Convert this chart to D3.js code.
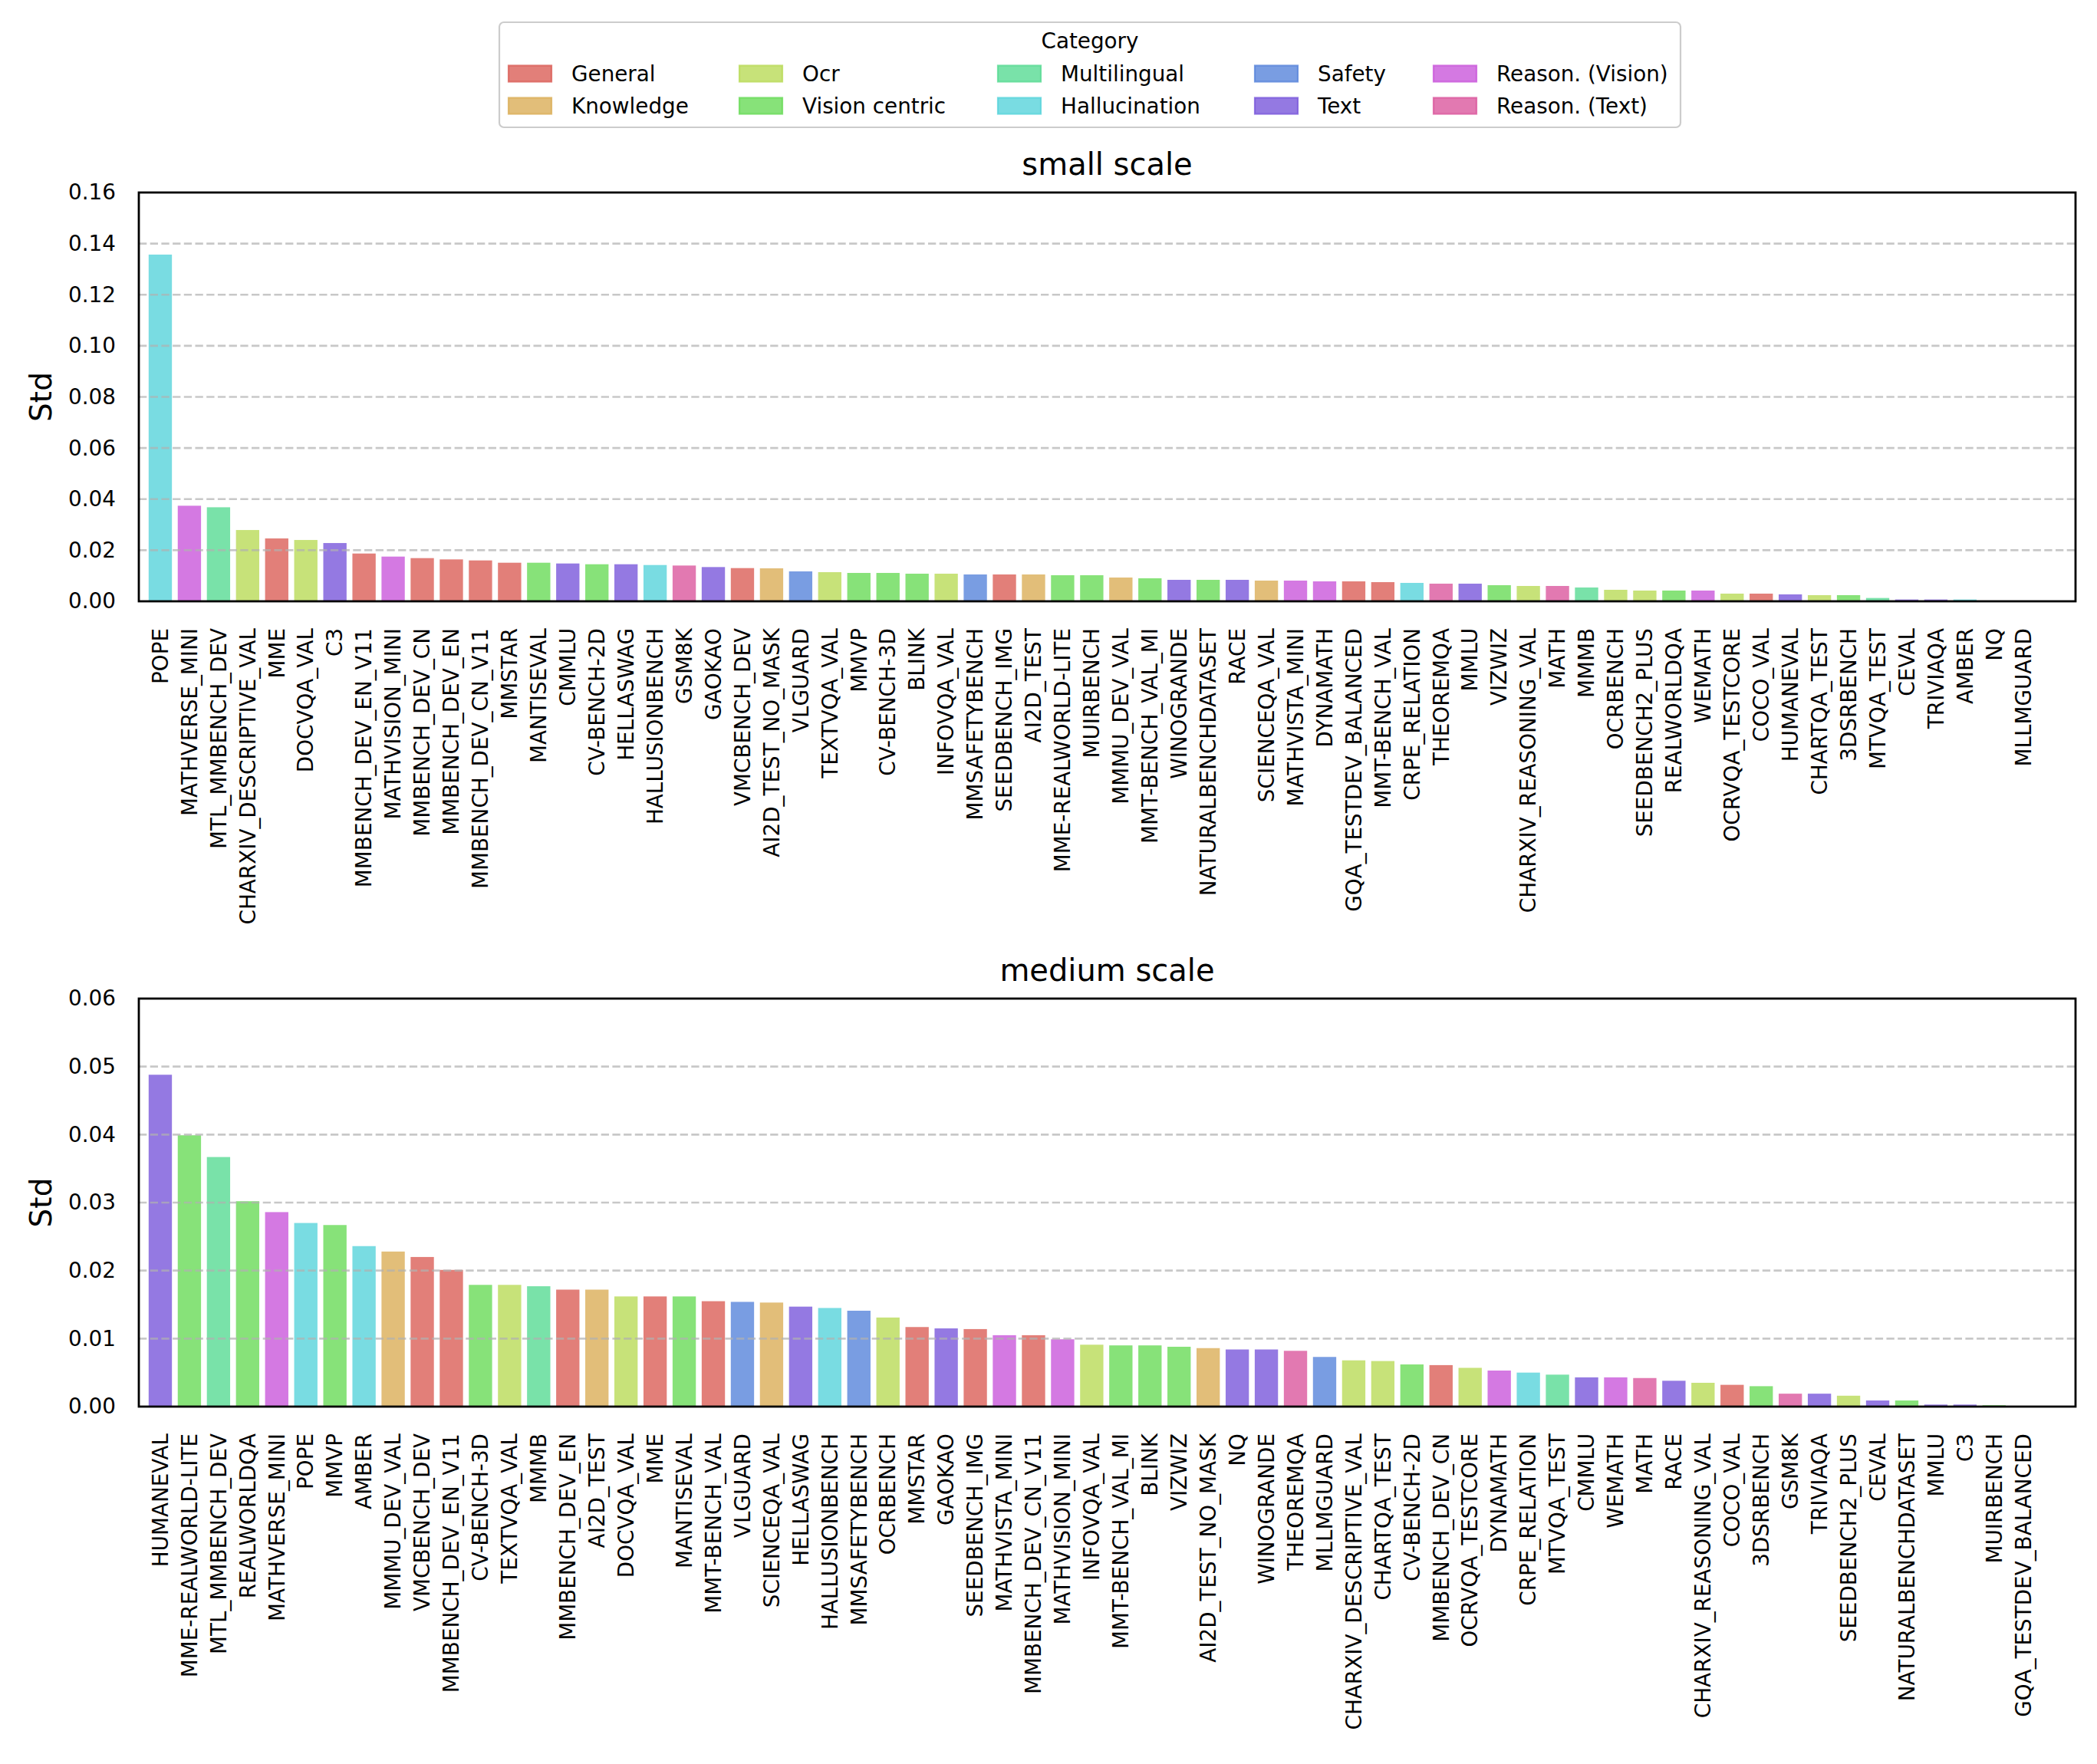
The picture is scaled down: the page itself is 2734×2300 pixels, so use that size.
<!DOCTYPE html>
<html>
<head>
<meta charset="utf-8">
<script src="https://cdn.jsdelivr.net/npm/d3@7"></script>
<style>
  html, body { margin: 0; padding: 0; background: #fff; }
  svg { display: block; font-family: "DejaVu Sans", sans-serif; }
</style>
</head>
<body>
<svg id="chart" width="2734" height="2300"></svg>
<script>
// ---------------- data ----------------
const categories = ["General", "Knowledge", "Ocr", "Vision centric", "Multilingual",
  "Hallucination", "Safety", "Text", "Reason. (Vision)", "Reason. (Text)"];

const benchNames = ["POPE","MATHVERSE_MINI","MTL_MMBENCH_DEV","CHARXIV_DESCRIPTIVE_VAL","MME","DOCVQA_VAL","C3",
  "MMBENCH_DEV_EN_V11","MATHVISION_MINI","MMBENCH_DEV_CN","MMBENCH_DEV_EN","MMBENCH_DEV_CN_V11","MMSTAR","MANTISEVAL",
  "CMMLU","CV-BENCH-2D","HELLASWAG","HALLUSIONBENCH","GSM8K","GAOKAO","VMCBENCH_DEV","AI2D_TEST_NO_MASK","VLGUARD",
  "TEXTVQA_VAL","MMVP","CV-BENCH-3D","BLINK","INFOVQA_VAL","MMSAFETYBENCH","SEEDBENCH_IMG","AI2D_TEST",
  "MME-REALWORLD-LITE","MUIRBENCH","MMMU_DEV_VAL","MMT-BENCH_VAL_MI","WINOGRANDE","NATURALBENCHDATASET","RACE",
  "SCIENCEQA_VAL","MATHVISTA_MINI","DYNAMATH","GQA_TESTDEV_BALANCED","MMT-BENCH_VAL","CRPE_RELATION","THEOREMQA",
  "MMLU","VIZWIZ","CHARXIV_REASONING_VAL","MATH","MMMB","OCRBENCH","SEEDBENCH2_PLUS","REALWORLDQA","WEMATH",
  "OCRVQA_TESTCORE","COCO_VAL","HUMANEVAL","CHARTQA_TEST","3DSRBENCH","MTVQA_TEST","CEVAL","TRIVIAQA","AMBER","NQ",
  "MLLMGUARD"];

const benchCategory = ["Hallucination","Reason. (Vision)","Multilingual","Ocr","General","Ocr","Text",
  "General","Reason. (Vision)","General","General","General","General","Vision centric",
  "Text","Vision centric","Text","Hallucination","Reason. (Text)","Text","General","Knowledge","Safety",
  "Ocr","Vision centric","Vision centric","Vision centric","Ocr","Safety","General","Knowledge",
  "Vision centric","Vision centric","Knowledge","Vision centric","Text","Vision centric","Text",
  "Knowledge","Reason. (Vision)","Reason. (Vision)","General","General","Hallucination","Reason. (Text)",
  "Text","Vision centric","Ocr","Reason. (Text)","Multilingual","Ocr","Ocr","Vision centric","Reason. (Vision)",
  "Ocr","General","Text","Ocr","Vision centric","Multilingual","Text","Text","Hallucination","Text",
  "Safety"];

const smallNames = ["POPE","MATHVERSE_MINI","MTL_MMBENCH_DEV","CHARXIV_DESCRIPTIVE_VAL","MME","DOCVQA_VAL","C3",
  "MMBENCH_DEV_EN_V11","MATHVISION_MINI","MMBENCH_DEV_CN","MMBENCH_DEV_EN","MMBENCH_DEV_CN_V11","MMSTAR","MANTISEVAL",
  "CMMLU","CV-BENCH-2D","HELLASWAG","HALLUSIONBENCH","GSM8K","GAOKAO","VMCBENCH_DEV","AI2D_TEST_NO_MASK","VLGUARD",
  "TEXTVQA_VAL","MMVP","CV-BENCH-3D","BLINK","INFOVQA_VAL","MMSAFETYBENCH","SEEDBENCH_IMG","AI2D_TEST",
  "MME-REALWORLD-LITE","MUIRBENCH","MMMU_DEV_VAL","MMT-BENCH_VAL_MI","WINOGRANDE","NATURALBENCHDATASET","RACE",
  "SCIENCEQA_VAL","MATHVISTA_MINI","DYNAMATH","GQA_TESTDEV_BALANCED","MMT-BENCH_VAL","CRPE_RELATION","THEOREMQA",
  "MMLU","VIZWIZ","CHARXIV_REASONING_VAL","MATH","MMMB","OCRBENCH","SEEDBENCH2_PLUS","REALWORLDQA","WEMATH",
  "OCRVQA_TESTCORE","COCO_VAL","HUMANEVAL","CHARTQA_TEST","3DSRBENCH","MTVQA_TEST","CEVAL","TRIVIAQA","AMBER","NQ",
  "MLLMGUARD"];
const smallValues = [0.1357,0.0374,0.0368,0.0279,0.0246,0.0240,0.0228,
  0.0187,0.0175,0.0169,0.0164,0.0160,0.0151,0.0151,
  0.0148,0.0145,0.0145,0.0142,0.0140,0.0134,0.0130,0.0129,0.0117,
  0.0114,0.0111,0.0111,0.0108,0.0108,0.0105,0.0105,0.0105,
  0.0102,0.0102,0.0093,0.0090,0.0084,0.0084,0.0084,
  0.0081,0.0081,0.0078,0.0078,0.0075,0.0072,0.0069,
  0.0069,0.0063,0.0060,0.0060,0.0054,0.0045,0.0042,0.0042,0.0042,
  0.0030,0.0030,0.0027,0.0024,0.0024,0.0013,0.0007,0.0007,0.0007,0.0,
  0.0];

const mediumNames = ["HUMANEVAL","MME-REALWORLD-LITE","MTL_MMBENCH_DEV","REALWORLDQA","MATHVERSE_MINI","POPE","MMVP",
  "AMBER","MMMU_DEV_VAL","VMCBENCH_DEV","MMBENCH_DEV_EN_V11","CV-BENCH-3D","TEXTVQA_VAL","MMMB","MMBENCH_DEV_EN",
  "AI2D_TEST","DOCVQA_VAL","MME","MANTISEVAL","MMT-BENCH_VAL","VLGUARD","SCIENCEQA_VAL","HELLASWAG","HALLUSIONBENCH",
  "MMSAFETYBENCH","OCRBENCH","MMSTAR","GAOKAO","SEEDBENCH_IMG","MATHVISTA_MINI","MMBENCH_DEV_CN_V11","MATHVISION_MINI",
  "INFOVQA_VAL","MMT-BENCH_VAL_MI","BLINK","VIZWIZ","AI2D_TEST_NO_MASK","NQ","WINOGRANDE","THEOREMQA","MLLMGUARD",
  "CHARXIV_DESCRIPTIVE_VAL","CHARTQA_TEST","CV-BENCH-2D","MMBENCH_DEV_CN","OCRVQA_TESTCORE","DYNAMATH","CRPE_RELATION",
  "MTVQA_TEST","CMMLU","WEMATH","MATH","RACE","CHARXIV_REASONING_VAL","COCO_VAL","3DSRBENCH","GSM8K","TRIVIAQA",
  "SEEDBENCH2_PLUS","CEVAL","NATURALBENCHDATASET","MMLU","C3","MUIRBENCH","GQA_TESTDEV_BALANCED"];
const mediumValues = [0.0488,0.0399,0.0367,0.0302,0.0286,0.0270,0.0267,
  0.0236,0.0228,0.0220,0.0201,0.0179,0.0179,0.0177,0.0172,
  0.0172,0.0162,0.0162,0.0162,0.0155,0.0154,0.0153,0.0147,0.0145,
  0.0141,0.0131,0.0117,0.0115,0.0114,0.0105,0.0105,0.0099,
  0.0091,0.0090,0.0090,0.0088,0.0086,0.0084,0.0084,0.0082,0.0073,
  0.0068,0.0067,0.0062,0.0061,0.0057,0.0053,0.0050,
  0.0047,0.0043,0.0043,0.0042,0.0038,0.0035,0.0032,0.0030,0.0019,0.0019,
  0.0016,0.0009,0.0009,0.0003,0.0003,0.0002,0.0];

const smallTicks = [0.00,0.02,0.04,0.06,0.08,0.10,0.12,0.14,0.16];
const mediumTicks = [0.00,0.01,0.02,0.03,0.04,0.05,0.06];

// ---------------- style ----------------
const palette = ["#db5f57","#dbae57","#b9db57","#69db57","#57db94","#57d3db","#5784db","#7957db","#c957db","#db579e"];
const color = d3.scaleOrdinal().domain(categories).range(palette);
const catOf = new Map(benchNames.map((n, i) => [n, benchCategory[i]]));

const svg = d3.select("#chart");
svg.append("rect").attr("width", 2734).attr("height", 2300).attr("fill", "#fff");

const AX_L = 181, AX_R = 2706;
const TICK_FS = 27.8;

function drawPanel(names, values, ticks, yMax, top, bottom, title) {
  const g = svg.append("g");
  const x = d3.scaleBand().domain(names).range([190, 2656.75]).paddingInner(0.2).paddingOuter(0.1);
  const y = d3.scaleLinear().domain([0, yMax]).range([bottom, top]);
  const data = names.map((n, i) => ({ name: n, value: values[i], cat: catOf.get(n) }));

  // bars
  g.append("g").selectAll("rect").data(data).join("rect")
    .attr("x", d => x(d.name))
    .attr("width", x.bandwidth())
    .attr("y", d => y(d.value))
    .attr("height", d => bottom - y(d.value))
    .attr("fill", d => color(d.cat))
    .attr("fill-opacity", 0.8);

  // grid (drawn above bars)
  g.append("g").selectAll("line").data(ticks.filter(t => t > 0 && t < yMax)).join("line")
    .attr("x1", AX_L).attr("x2", AX_R)
    .attr("y1", d => y(d)).attr("y2", d => y(d))
    .attr("stroke", "#b0b0b0").attr("stroke-opacity", 0.7)
    .attr("stroke-width", 2.6).attr("stroke-dasharray", "10.3,4.4");

  // y axis
  const yAxis = d3.axisLeft(y).tickValues(ticks).tickFormat(d3.format(".2f")).tickSize(0).tickPadding(30);
  const ya = g.append("g").attr("transform", `translate(${AX_L},0)`).call(yAxis);
  ya.select(".domain").remove();
  ya.selectAll("text").attr("font-size", TICK_FS).attr("fill", "#000")
    .attr("font-family", "DejaVu Sans");

  // x axis
  const xAxis = d3.axisBottom(x).tickSize(0);
  const xa = g.append("g").attr("transform", `translate(0,${bottom})`).call(xAxis);
  xa.select(".domain").remove();
  xa.selectAll("text")
    .attr("font-size", TICK_FS).attr("fill", "#000").attr("font-family", "DejaVu Sans")
    .attr("transform", "rotate(-90)")
    .attr("text-anchor", "end")
    .attr("x", -35).attr("y", 0).attr("dy", "0.35em");

  // frame
  g.append("rect").attr("x", AX_L).attr("y", top).attr("width", AX_R - AX_L).attr("height", bottom - top)
    .attr("fill", "none").attr("stroke", "#000").attr("stroke-width", 2.8);

  // title
  g.append("text").attr("x", (AX_L + AX_R) / 2).attr("y", top - 23)
    .attr("text-anchor", "middle").attr("font-size", 40).attr("fill", "#000").text(title);

  // y label
  g.append("text").attr("transform", `translate(67,${(top + bottom) / 2}) rotate(-90)`)
    .attr("text-anchor", "middle").attr("font-size", 39).attr("fill", "#000").text("Std");
}

drawPanel(smallNames, smallValues, smallTicks, 0.16, 251, 784, "small scale");
drawPanel(mediumNames, mediumValues, mediumTicks, 0.06, 1302, 1834, "medium scale");

// ---------------- legend ----------------
const lg = svg.append("g");
lg.append("rect").attr("x", 651).attr("y", 29).attr("width", 1540).attr("height", 137)
  .attr("rx", 6).attr("fill", "#fff").attr("fill-opacity", 0.8)
  .attr("stroke", "#cccccc").attr("stroke-width", 2.2);
lg.append("text").attr("x", 1421).attr("y", 63).attr("text-anchor", "middle")
  .attr("font-size", TICK_FS).attr("fill", "#000").text("Category");
const colPatchX = [662, 963, 1300, 1635, 1868];
const rowY = [96, 138];
categories.forEach((c, i) => {
  const col = Math.floor(i / 2), row = i % 2;
  const px = colPatchX[col], cy = rowY[row];
  lg.append("rect").attr("x", px + 1).attr("y", cy - 10.5).attr("width", 56).attr("height", 21)
    .attr("fill", color(c)).attr("fill-opacity", 0.8)
    .attr("stroke", color(c)).attr("stroke-opacity", 0.8).attr("stroke-width", 2.2);
  lg.append("text").attr("x", px + 83).attr("y", cy).attr("dy", "0.36em")
    .attr("font-size", TICK_FS).attr("fill", "#000").text(c);
});
</script>
</body>
</html>
